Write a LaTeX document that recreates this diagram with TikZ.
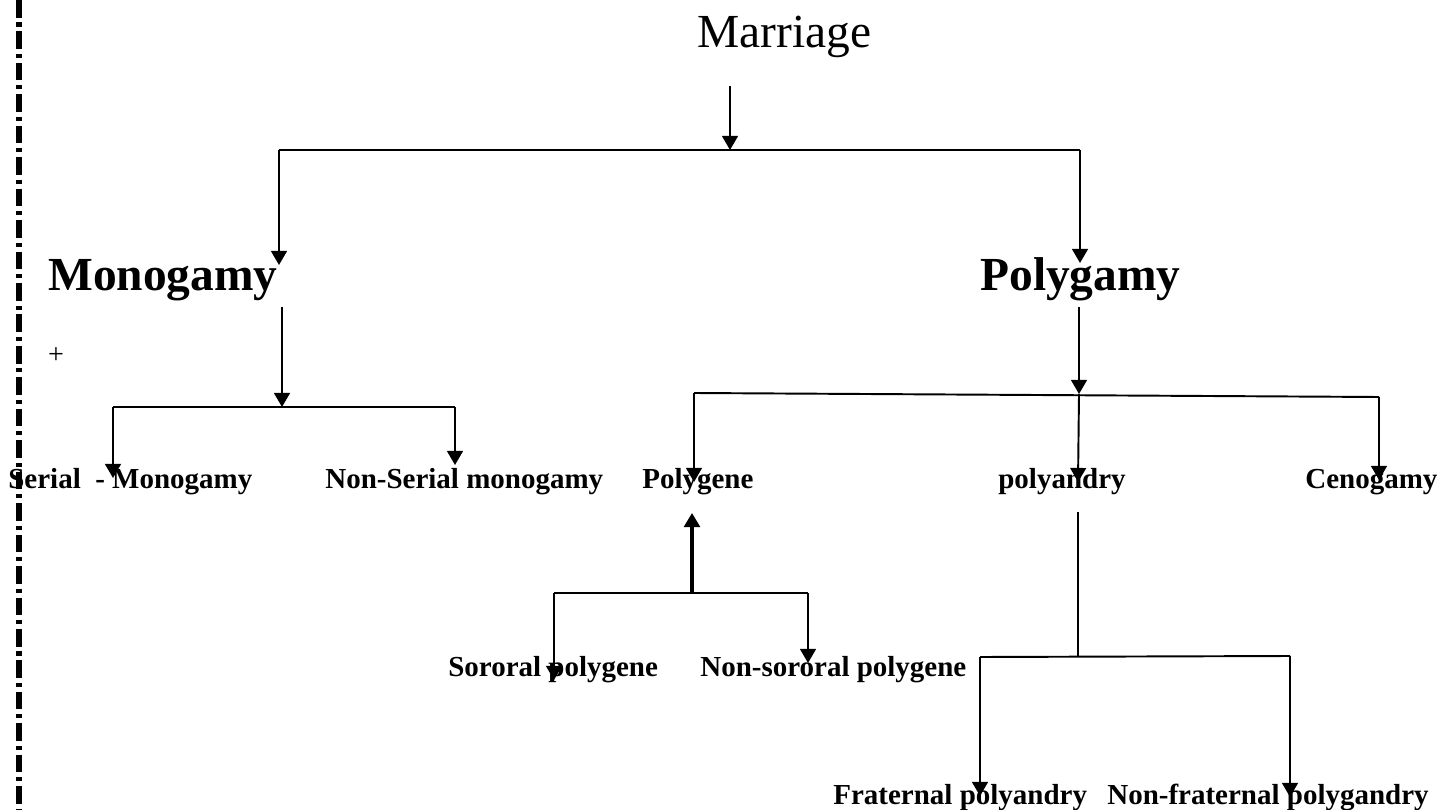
\documentclass[tikz,border=0pt]{standalone}
\usepackage{fontspec}
\setmainfont{Liberation Serif}
\usetikzlibrary{arrows.meta,calc}

\begin{document}
\begin{tikzpicture}[
  x=0.02cm, y=-0.02cm,
  >={Triangle[length=8pt,width=9pt]},
  title/.style={font=\fontsize{27}{32}\selectfont,inner sep=0,anchor=base west},
  head/.style={font=\fontsize{27}{32}\selectfont\bfseries,inner sep=0,anchor=base west},
  leaf/.style={font=\fontsize{16.5}{20}\selectfont\bfseries,inner sep=0,anchor=base west},
  arr/.style={->,line width=1.1pt},
  link/.style={line width=1.1pt}
]
  \useasboundingbox (0,0) rectangle (1449,810);

  % left margin rule
  \draw[line width=3.3pt,dash pattern=on 10pt off 2.8pt on 2.3pt off 2.8pt]
    (19,0) -- (19,810);

  % labels
  \node[title] (marriage) at (697,48) {Marriage};
  \node[head] (mono) at (48,291) {Monogamy};
  \node[head] (poly) at (980,291) {Polygamy};
  \node[font=\fontsize{16}{19}\selectfont,inner sep=0] (plus) at (56,356) {+};

  \node[leaf] (serial) at (8,488) {Serial\ \ - Monogamy};
  \node[leaf] (nonserial) at (325,488) {Non-Serial monogamy};
  \node[leaf] (polygene) at (642,488) {Polygene};
  \node[leaf] (polyandry) at (998,488) {polyandry};
  \node[leaf] (cenogamy) at (1305,488) {Cenogamy};
  \node[leaf] (sororal) at (448,676) {Sororal polygene};
  \node[leaf] (nonsororal) at (700,676) {Non-sororal polygene};
  \node[leaf] (fraternal) at (833,804) {Fraternal polyandry};
  \node[leaf] (nonfraternal) at (1107,804) {Non-fraternal polygandry};

  % junction points
  \coordinate (mTop) at (730,86);
  \coordinate (mBar) at (730,150);
  \coordinate (mBarL) at (279,150);
  \coordinate (mBarR) at (1080,150);
  \coordinate (monoTip) at (279,265);
  \coordinate (polyTip) at (1080,263);

  \coordinate (monoOut) at (282,307);
  \coordinate (monoBar) at (282,407);
  \coordinate (monoBarL) at (113,407);
  \coordinate (monoBarR) at (455,407);
  \coordinate (serialTip) at (113,478);
  \coordinate (nonserialTip) at (455,465);

  \coordinate (polyOut) at (1079,307);
  \coordinate (polyBar) at (1079,394);
  \coordinate (polyBarL) at (694,393);
  \coordinate (polyBarR) at (1379,397);
  \coordinate (polygeneTip) at (694,482);
  \coordinate (polyandryTip) at (1078,482);
  \coordinate (cenogamyTip) at (1379,480);

  \coordinate (sBar) at (692,593);
  \coordinate (sBarL) at (554,593);
  \coordinate (sBarR) at (808,593);
  \coordinate (polygeneIn) at (692,513);
  \coordinate (sororalTip) at (554,680);
  \coordinate (nonsororalTip) at (808,663);

  \coordinate (aOut) at (1078,512);
  \coordinate (aBar) at (1078,657);
  \coordinate (aBarL) at (980,657);
  \coordinate (aBarR) at (1290,656);
  \coordinate (fraternalTip) at (980,796);
  \coordinate (nonfraternalTip) at (1290,797);

  % marriage
  \draw[arr] (mTop) -- (mBar);
  \draw[link] (mBarL) -- (mBarR);
  \draw[arr] (mBarL) -- (monoTip);
  \draw[arr] (mBarR) -- (polyTip);

  % monogamy
  \draw[arr] (monoOut) -- (monoBar);
  \draw[link] (monoBarL) -- (monoBarR);
  \draw[arr] (monoBarL) -- (serialTip);
  \draw[arr] (monoBarR) -- (nonserialTip);

  % polygamy
  \draw[arr] (polyOut) -- (polyBar);
  \draw[link] (polyBarL) -- (polyBarR);
  \draw[arr] (polyBarL) -- (polygeneTip);
  \draw[arr] (polyBar) -- (polyandryTip);
  \draw[arr] (polyBarR) -- (cenogamyTip);

  % polygene
  \draw[->,line width=1.8pt] (sBar) -- (polygeneIn);
  \draw[link] (sBarL) -- (sBarR);
  \draw[arr] (sBarL) -- (sororalTip);
  \draw[arr] (sBarR) -- (nonsororalTip);

  % polyandry
  \draw[link] (aOut) -- (aBar);
  \draw[link] (aBarL) -- (aBarR);
  \draw[arr] (aBarL) -- (fraternalTip);
  \draw[arr] (aBarR) -- (nonfraternalTip);
\end{tikzpicture}
\end{document}
